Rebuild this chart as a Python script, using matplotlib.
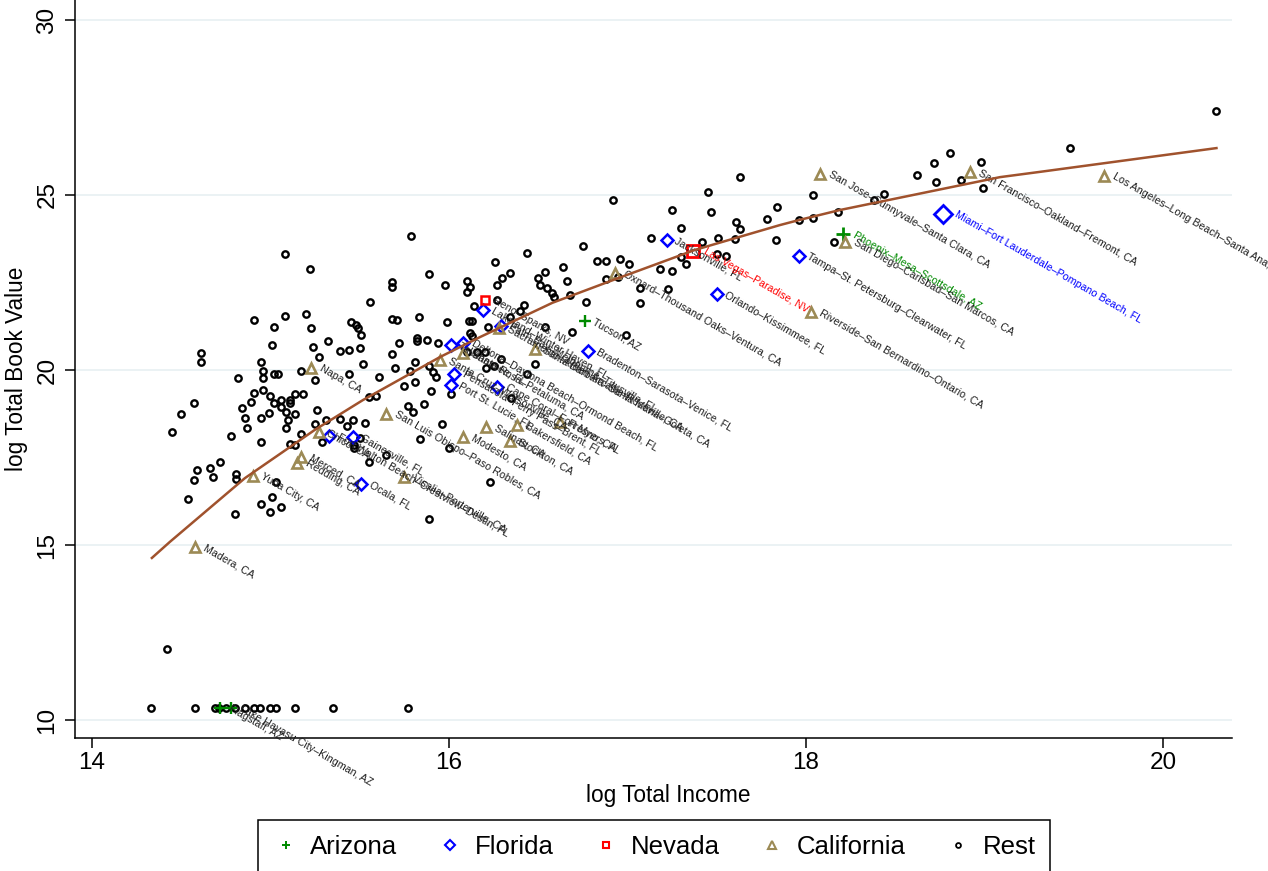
import numpy as np
import matplotlib.pyplot as plt
from matplotlib.lines import Line2D

plt.rcParams['font.family'] = ['Liberation Sans', 'DejaVu Sans']

# labelled metro areas, first entry of AZ / FL / NV is the largest one
az_names = ["Phoenix–Mesa–Scottsdale, AZ", "Tucson, AZ", "Flagstaff, AZ",
            "Lake Havasu City–Kingman, AZ"]
az_x = [18.21, 16.76, 14.72, 14.78]
az_y = [23.89, 21.40, 10.35, 10.35]

fl_names = ["Miami–Fort Lauderdale–Pompano Beach, FL", "Tampa–St. Petersburg–Clearwater, FL",
            "Orlando–Kissimmee, FL", "Jacksonville, FL", "Bradenton–Sarasota–Venice, FL",
            "Lakeland–Winter Haven, FL", "Palm Bay–Melbourne–Titusville, FL",
            "Deltona–Daytona Beach–Ormond Beach, FL", "Tallahassee, FL",
            "Pensacola–Ferry Pass–Brent, FL", "Port St. Lucie, FL", "Cape Coral–Fort Myers, FL",
            "Gainesville, FL", "Fort Walton Beach–Crestview–Destin, FL", "Ocala, FL"]
fl_x = [18.77, 17.96, 17.50, 17.22, 16.78, 16.19, 16.29, 16.08, 16.01, 16.03, 16.01, 16.27,
        15.46, 15.33, 15.51]
fl_y = [24.46, 23.26, 22.17, 23.71, 20.54, 21.71, 21.26, 20.77, 20.71, 19.89, 19.57, 19.51,
        18.09, 18.11, 16.74]

nv_names = ["Las Vegas–Paradise, NV", "Reno–Sparks, NV"]
nv_x = [17.37, 16.20]
nv_y = [23.40, 22.00]

ca_names = ["Los Angeles–Long Beach–Santa Ana, CA", "San Francisco–Oakland–Fremont, CA",
            "San Jose–Sunnyvale–Santa Clara, CA", "San Diego–Carlsbad–San Marcos, CA",
            "Riverside–San Bernardino–Ontario, CA", "Oxnard–Thousand Oaks–Ventura, CA",
            "Sacramento–Arden-Arcade–Roseville, CA", "Santa Barbara–Santa Maria–Goleta, CA",
            "Santa Rosa–Petaluma, CA", "Santa Cruz–Watsonville, CA", "Napa, CA",
            "San Luis Obispo–Paso Robles, CA", "Chico, CA", "Merced, CA", "Redding, CA",
            "Yuba City, CA", "Madera, CA", "Visalia–Porterville, CA", "Modesto, CA",
            "Salinas, CA", "Bakersfield, CA", "Stockton, CA", "Fresno, CA"]
ca_x = [19.67, 18.92, 18.08, 18.22, 18.03, 16.93, 16.28, 16.48, 16.08, 15.95, 15.23, 15.65,
        15.27, 15.17, 15.15, 14.90, 14.58, 15.75, 16.08, 16.21, 16.38, 16.34, 16.62]
ca_y = [25.54, 25.66, 25.60, 23.66, 21.66, 22.77, 21.20, 20.60, 20.49, 20.29, 20.06, 18.74,
        18.23, 17.51, 17.34, 16.97, 14.94, 16.94, 18.09, 18.37, 18.43, 17.97, 18.51]

rest_x = [15.79, 15.08, 15.22, 15.89, 15.68, 15.68, 15.98, 15.56, 14.91, 15.08, 15.20, 15.68,
          15.71, 15.83, 15.99, 15.02, 15.23, 15.45, 15.48, 15.49, 15.51, 15.01, 15.24, 15.32,
          15.39, 15.44, 15.50, 15.27, 15.68, 15.72, 15.82, 15.82, 15.88, 15.94, 15.52, 15.81,
          15.70, 15.78, 15.89, 15.91, 15.93, 14.61, 14.61, 14.95, 14.96, 14.96, 15.02, 15.04,
          14.82, 15.17, 15.25, 15.44, 15.61, 15.75, 15.81, 15.90, 16.01, 14.91, 14.96, 15.00,
          15.02, 15.06, 15.06, 15.11, 15.11, 15.14, 15.18, 14.89, 14.84, 14.57, 14.50, 14.45,
          14.78, 14.86, 14.87, 14.95, 14.99, 15.09, 15.10, 15.14, 15.09, 14.95, 15.11, 15.14,
          15.17, 15.25, 15.26, 15.31, 15.39, 15.43, 15.46, 15.53, 15.55, 15.59, 15.77, 15.80,
          15.86, 15.96, 15.84, 15.29, 15.47, 15.50, 16.12, 16.10, 16.14, 16.11, 16.13, 16.12,
          16.13, 16.16, 16.10, 16.27, 16.27, 16.42, 16.40, 16.34, 16.22, 16.54, 16.69, 16.77,
          17.07, 17.23, 16.99, 16.51, 16.55, 16.58, 16.59, 16.68, 16.20, 16.29, 16.21, 16.25,
          16.10, 16.44, 16.48, 16.35, 16.66, 17.63, 16.92, 17.45, 17.25, 17.47, 18.04, 17.84,
          17.78, 17.96, 18.04, 17.61, 17.63, 17.30, 17.60, 17.51, 17.42, 17.83, 17.13, 18.16,
          16.44, 16.75, 16.26, 16.83, 16.88, 16.96, 17.01, 17.30, 17.33, 17.50, 17.55, 17.18,
          17.25, 16.34, 16.30, 16.50, 16.54, 16.64, 16.88, 16.95, 17.07, 18.81, 18.98, 18.72,
          18.62, 18.73, 18.87, 18.99, 18.44, 18.38, 18.18, 19.48, 20.30, 15.47, 15.55, 15.65,
          14.59, 14.66, 14.72, 14.68, 14.57, 14.81, 14.81, 15.03, 15.01, 14.95, 15.00, 15.06,
          14.80, 14.54, 16.00, 16.23, 15.89, 14.33, 14.42, 14.58, 14.69, 14.71, 14.75, 14.80,
          14.86, 14.91, 14.94, 15.00, 15.03, 15.14, 15.35, 15.77]
rest_y = [23.84, 23.31, 22.88, 22.74, 22.52, 22.38, 22.42, 21.95, 21.43, 21.54, 21.61, 21.47,
          21.43, 21.51, 21.36, 21.23, 21.19, 21.37, 21.29, 21.20, 21.00, 20.72, 20.67, 20.83,
          20.54, 20.57, 20.62, 20.37, 20.47, 20.78, 20.92, 20.84, 20.85, 20.76, 20.18, 20.24,
          20.07, 19.96, 20.11, 19.95, 19.79, 20.48, 20.22, 20.22, 19.96, 19.76, 19.88, 19.88,
          19.78, 19.97, 19.71, 19.88, 19.80, 19.55, 19.65, 19.41, 19.32, 19.34, 19.44, 19.25,
          19.05, 19.15, 18.94, 19.13, 19.05, 19.31, 19.31, 19.08, 18.91, 19.05, 18.73, 18.24,
          18.12, 18.64, 18.33, 18.62, 18.77, 18.79, 18.56, 18.75, 18.35, 17.95, 17.89, 17.86,
          18.18, 18.47, 18.87, 18.56, 18.61, 18.41, 18.57, 18.49, 19.23, 19.26, 18.98, 18.81,
          19.04, 18.47, 18.04, 17.93, 17.86, 18.05, 22.38, 22.22, 21.84, 21.41, 21.41, 21.05,
          20.97, 20.52, 22.55, 22.43, 22.00, 21.86, 21.69, 21.52, 21.24, 21.24, 21.08, 21.95,
          21.91, 22.31, 21.00, 22.43, 22.33, 22.19, 22.09, 22.14, 20.52, 20.31, 20.05, 20.12,
          20.52, 19.89, 20.17, 19.21, 22.55, 25.52, 24.87, 25.09, 24.56, 24.52, 24.99, 24.65,
          24.31, 24.29, 24.34, 24.24, 24.04, 24.06, 23.75, 23.76, 23.65, 23.71, 23.76, 23.66,
          23.33, 23.55, 23.09, 23.12, 23.11, 23.16, 23.04, 23.24, 23.04, 23.31, 23.25, 22.88,
          22.82, 22.76, 22.62, 22.63, 22.80, 22.94, 22.61, 22.67, 22.35, 26.21, 25.94, 25.91,
          25.56, 25.36, 25.43, 25.19, 25.02, 24.86, 24.51, 26.33, 27.40, 17.76, 17.38, 17.57,
          17.14, 17.21, 17.38, 16.93, 16.86, 17.03, 16.89, 16.79, 16.38, 16.16, 15.95, 16.09,
          15.88, 16.32, 17.78, 16.79, 15.73, 10.35, 12.04, 10.35, 10.35, 10.35, 10.35, 10.35,
          10.35, 10.35, 10.35, 10.35, 10.35, 10.35, 10.35, 10.35]

# fitted curve
fit_x = [14.336, 14.437, 14.857, 15.249, 15.518, 15.95, 16.174, 16.58, 16.92, 17.378,
         17.854, 17.966, 18.19, 19.087, 19.31, 20.30]
fit_y = [14.63, 15.09, 16.91, 18.29, 19.14, 20.37, 20.94, 21.92, 22.57, 23.43,
         24.14, 24.29, 24.57, 25.51, 25.66, 26.34]

green = '#008a00'
blue = '#0000ff'
red = '#ff0000'
khaki = '#9c8a55'
lab_col = '#1e1e1e'

fig = plt.figure(figsize=(12.68, 8.71), dpi=100)
ax = fig.add_axes([0.0591, 0.1527, 0.9125, 0.8473])

for v in [10, 15, 20, 25, 30]:
    ax.axhline(v, color='#e9f1f3', lw=1.3, zorder=0)


def label(names, xs, ys, big_col=None, big_off=8):
    for i, (n, x, y) in enumerate(zip(names, xs, ys)):
        c = big_col if (big_col and i == 0) else lab_col
        off = big_off if (big_col and i == 0) else 6.5
        ax.annotate(n, (x, y), xytext=(off, 0), textcoords='offset points',
                    rotation=-30, rotation_mode='anchor', ha='left', va='center',
                    fontsize=7.7, color=c, zorder=5)


# Arizona
ax.plot(az_x[1:], az_y[1:], '+', color=green, ms=8, mew=1.7, ls='none', zorder=4)
ax.plot(az_x[:1], az_y[:1], '+', color=green, ms=10.5, mew=2.0, ls='none', zorder=4)
label(az_names, az_x, az_y, green)
# Florida
ax.plot(fl_x[1:], fl_y[1:], 'D', mfc='none', mec=blue, ms=6.4, mew=1.8, ls='none', zorder=4)
ax.plot(fl_x[:1], fl_y[:1], 'D', mfc='none', mec=blue, ms=9.0, mew=2.0, ls='none', zorder=4)
label(fl_names, fl_x, fl_y, blue, 9)
# Nevada
ax.plot(nv_x[1:], nv_y[1:], 's', mfc='none', mec=red, ms=6.4, mew=1.8, ls='none', zorder=4)
ax.plot(nv_x[:1], nv_y[:1], 's', mfc='none', mec=red, ms=8.4, mew=2.0, ls='none', zorder=4)
label(nv_names, nv_x, nv_y, red)
# California
ax.plot(ca_x, ca_y, '^', mfc='none', mec=khaki, ms=7.5, mew=1.9, ls='none', zorder=4)
label(ca_names, ca_x, ca_y)
# the rest
ax.plot(rest_x, rest_y, 'o', mfc='none', mec='black', ms=4.6, mew=1.7, ls='none', zorder=3)

ax.plot(fit_x, fit_y, color='#a0522d', lw=1.8, zorder=6)

ax.set_xlim(13.905, 20.387)
ax.set_ylim(9.486, 30.571)
ax.set_xticks([14, 16, 18, 20])
ax.set_yticks([10, 15, 20, 25, 30])
ax.tick_params(axis='both', direction='out', length=7, width=1.1, labelsize=17.5, colors='black')
ax.tick_params(axis='x', pad=3)
ax.tick_params(axis='y', pad=5)
for t in ax.get_yticklabels():
    t.set_rotation(90)
    t.set_va('center')
for s in ['top', 'right']:
    ax.spines[s].set_visible(False)
for s in ['left', 'bottom']:
    ax.spines[s].set_linewidth(1.1)

ax.set_xlabel('log Total Income', fontsize=16.3)
ax.xaxis.set_label_coords(0.513, -0.063)
ax.set_ylabel('log Total Book Value', fontsize=16.3, labelpad=6)

handles = [
    Line2D([], [], marker='+', color=green, ls='none', ms=6, mew=1.4),
    Line2D([], [], marker='D', mfc='none', mec=blue, ls='none', ms=5, mew=1.5),
    Line2D([], [], marker='s', mfc='none', mec=red, ls='none', ms=5, mew=1.5),
    Line2D([], [], marker='^', mfc='none', mec=khaki, ls='none', ms=5.5, mew=1.5),
    Line2D([], [], marker='o', mfc='none', mec='black', ls='none', ms=3.5, mew=1.3),
]
leg = fig.legend(handles, ['Arizona', 'Florida', 'Nevada', 'California', 'Rest'],
                 loc='lower center', bbox_to_anchor=(0.516, -0.0034), ncol=5, fontsize=18.5,
                 frameon=True, fancybox=False, edgecolor='black', framealpha=1,
                 handlelength=1.0, handletextpad=0.45, columnspacing=1.55, borderpad=0.58,
                 borderaxespad=0)
leg.get_frame().set_linewidth(1.1)

fig.savefig('out.png', dpi=100)
